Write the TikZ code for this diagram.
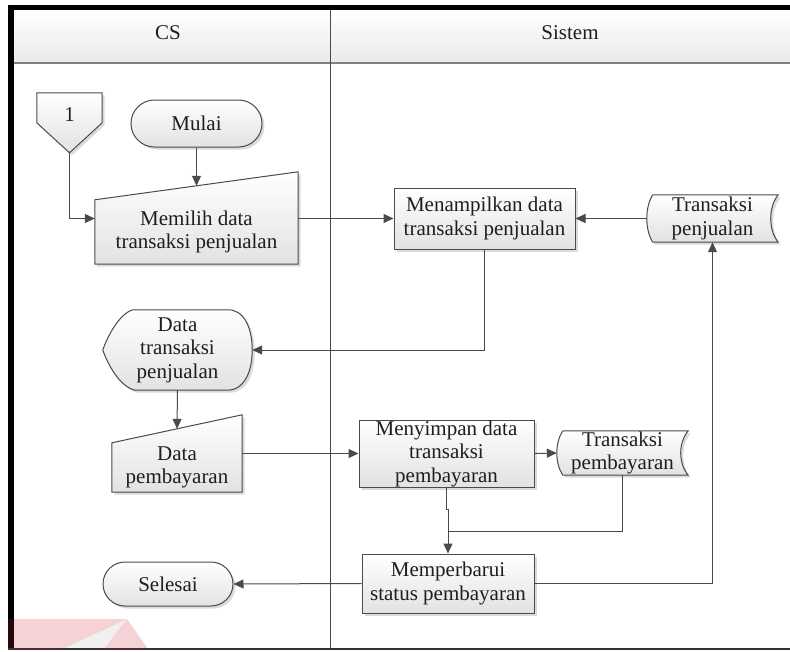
\documentclass[tikz,border=0pt]{standalone}
\usepackage{fontspec}
\setmainfont{Liberation Serif}
\usetikzlibrary{arrows.meta,calc,shapes.misc,shadows}

\definecolor{edge}{HTML}{4A4A4A}
\definecolor{ink}{HTML}{1E1E1E}
\definecolor{shade}{HTML}{E2E2E2}
\definecolor{headshade}{HTML}{EAEAEA}
\definecolor{logored}{RGB}{200,30,45}

\pgfdeclarelayer{back}
\pgfdeclarelayer{bg}
\pgfsetlayers{back,bg,main}

\begin{document}
\begin{tikzpicture}[x=1pt,y=-1pt,
  every node/.style={font=\fontsize{21}{23.5}\selectfont, text=ink, align=center, inner sep=0pt},
  shapefill/.style={draw=edge, line width=1pt, top color=white, bottom color=shade,
    drop shadow={shadow xshift=2.5pt, shadow yshift=-2.5pt, fill=black!35, opacity=0.4}},
  procbox/.style={rectangle, shapefill},
  termbox/.style={rounded rectangle, shapefill},
  holder/.style={rectangle, draw=none},
  arr/.style={draw=edge, line width=1pt, -{Triangle[length=10pt,width=9pt]}},
  link/.style={draw=edge, line width=1pt},
]
\useasboundingbox (0,0) rectangle (790,651);

% ---------- swimlane frame ----------
\begin{pgfonlayer}{back}
  \fill[white] (0,0) rectangle (790,651);
  \path[top color=white, bottom color=headshade] (14,10) rectangle (790,63);
  \draw[black!50, line width=1.5pt] (14,63) -- (790,63);
  \draw[edge, line width=1pt] (330,10) -- (330,648);
  \fill[black] (8,5) rectangle (790,10);
  \fill[black] (8,5) rectangle (14,649);
  \draw[black!80, line width=2pt] (8,648.5) -- (790,648.5);
\end{pgfonlayer}

\node (lanecs) at (168,33) {CS};
\node (lanesys) at (570,33) {Sistem};

% ---------- CS lane ----------
\node[holder, minimum width=65, minimum height=44] (c1) at (69.5,115) {1};
\coordinate (c1tip) at ($(c1.north)+(0,60)$);

\node[termbox, minimum width=131, minimum height=47] (mulai) at (196.5,123.5) {Mulai};

\node[holder, minimum width=203, minimum height=64] (memilih) at (196.5,232)
  {Memilih data\\transaksi penjualan};
\coordinate (memtop) at ($(memilih.north)+(0,-14)$);

\node[holder, minimum width=149, minimum height=80] (dtp) at (177.5,350)
  {Data\\transaksi\\penjualan};

\node[holder, minimum width=130, minimum height=49] (datapem) at (177,467.5)
  {Data\\pembayaran};
\coordinate (dptop) at ($(datapem.north)+(0,-14)$);

\node[termbox, minimum width=130, minimum height=44] (selesai) at (168,584) {Selesai};

% ---------- Sistem lane ----------
\node[procbox, minimum width=181, minimum height=61] (menampilkan) at (484.5,218.5)
  {Menampilkan data\\transaksi penjualan};
\node[holder, minimum width=131, minimum height=47] (tpenj) at (712.5,218.5)
  {Transaksi\\penjualan};
\node[procbox, minimum width=175, minimum height=67] (menyimpan) at (446.5,453.5)
  {Menyimpan data\\transaksi\\pembayaran};
\node[holder, minimum width=131, minimum height=44] (tpemb) at (622.5,453)
  {Transaksi\\pembayaran};
\node[procbox, minimum width=172, minimum height=59] (memperbarui) at (448,583.5)
  {Memperbarui\\status pembayaran};
\coordinate (join) at (448,531);

% ---------- outlines of the special symbols ----------
\begin{pgfonlayer}{bg}
  % off-page reference
  \path[shapefill] (c1.north west) -- (c1.north east) -- ($(c1.north east)+(0,30)$)
    -- (c1tip) -- ($(c1.north west)+(0,30)$) -- cycle;
  % manual inputs
  \path[shapefill] (memilih.south west) -- (memilih.north west)
    -- ($(memilih.north east)+(0,-28)$) -- (memilih.south east) -- cycle;
  \path[shapefill] (datapem.south west) -- (datapem.north west)
    -- ($(datapem.north east)+(0,-28)$) -- (datapem.south east) -- cycle;
  % display
  \path[shapefill] ($(dtp.north west)+(30,0)$) -- ($(dtp.north east)+(-24,0)$)
    .. controls ($(dtp.north east)+(-8,0)$) and ($(dtp.east)+(0,-22)$) .. (dtp.east)
    .. controls ($(dtp.east)+(0,22)$) and ($(dtp.south east)+(-8,0)$) .. ($(dtp.south east)+(-25,0)$)
    -- ($(dtp.south west)+(32,0)$)
    .. controls ($(dtp.south west)+(16,-4)$) and ($(dtp.west)+(4,12)$) .. (dtp.west)
    .. controls ($(dtp.west)+(4,-12)$) and ($(dtp.north west)+(16,4)$) .. ($(dtp.north west)+(30,0)$);
  % stored data
  \foreach \s in {tpenj,tpemb}{
    \path[shapefill] ($(\s.north west)+(6,0)$) -- (\s.north east)
      .. controls ($(\s.north east)+(-10,12)$) and ($(\s.south east)+(-10,-12)$) .. (\s.south east)
      -- ($(\s.south west)+(6,0)$)
      .. controls ($(\s.south west)+(-2,-12)$) and ($(\s.north west)+(-2,12)$) .. ($(\s.north west)+(6,0)$);
  }
\end{pgfonlayer}

% ---------- connectors ----------
\draw[arr] (mulai.south) -- (memtop);
\draw[arr] (c1tip) |- (memilih.west |- menampilkan.west);
\draw[arr] (memilih.east |- menampilkan.west) -- (menampilkan.west);
\draw[arr] (tpenj.west) -- (menampilkan.east);
\draw[arr] (menampilkan.south) |- (dtp.east);
\draw[arr] (dtp.south) -- (dptop);
\draw[arr] (datapem.east |- menyimpan.west) -- (menyimpan.west);
\draw[arr] (menyimpan.east) -- (tpemb.west);
\draw[arr] (menyimpan.south) -- ++(0,22) -| (memperbarui.north);
\draw[link] (tpemb.south) |- (join);
\draw[arr] (memperbarui.east) -| (tpenj.south);
\draw[arr] (memperbarui.west) -- (selesai.east);

% ---------- corner logo ----------
\fill[logored, opacity=0.2] (8,619) -- (127,619) -- (62,649) -- (8,649) -- cycle;
\fill[logored, opacity=0.2] (127,619) -- (148,649) -- (104,649) -- cycle;
\fill[black, opacity=0.06] (127,619) -- (104,649) -- (62,649) -- cycle;
\end{tikzpicture}
\end{document}
